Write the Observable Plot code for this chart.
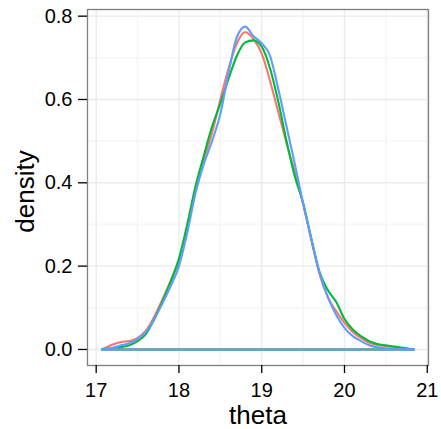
<!DOCTYPE html>
<html>
<head>
<meta charset="utf-8">
<script src="https://cdn.jsdelivr.net/npm/d3@7"></script>
<script src="https://cdn.jsdelivr.net/npm/@observablehq/plot@0.6"></script>
<style>
  html, body { margin: 0; padding: 0; background: #fff; }
  #chart { width: 441px; height: 429px; }
</style>
</head>
<body>
<div id="chart"></div>
<script>
// theta grid and density estimates per chain
const theta = [17.07, 17.2, 17.3, 17.4, 17.5, 17.6, 17.7, 17.8, 17.9, 18.0, 18.1, 18.2, 18.3, 18.4, 18.5, 18.6, 18.7, 18.8, 18.9, 19.0, 19.1, 19.2, 19.3, 19.4, 19.5, 19.6, 19.7, 19.8, 19.9, 20.0, 20.1, 20.2, 20.3, 20.4, 20.5, 20.6, 20.7, 20.84];
const red   = [0, 0.012, 0.018, 0.020, 0.028, 0.045, 0.078, 0.120, 0.165, 0.215, 0.295, 0.385, 0.455, 0.520, 0.600, 0.675, 0.735, 0.762, 0.745, 0.710, 0.645, 0.570, 0.495, 0.425, 0.350, 0.262, 0.180, 0.125, 0.092, 0.064, 0.042, 0.027, 0.016, 0.011, 0.008, 0.005, 0.003, 0];
const green = [0, 0.003, 0.006, 0.010, 0.020, 0.037, 0.072, 0.115, 0.163, 0.218, 0.300, 0.392, 0.465, 0.535, 0.590, 0.650, 0.705, 0.737, 0.742, 0.727, 0.675, 0.595, 0.500, 0.415, 0.352, 0.265, 0.185, 0.142, 0.114, 0.073, 0.048, 0.032, 0.020, 0.013, 0.010, 0.007, 0.004, 0];
const blue  = [0, 0.004, 0.010, 0.015, 0.025, 0.042, 0.072, 0.110, 0.152, 0.200, 0.280, 0.375, 0.445, 0.500, 0.565, 0.665, 0.750, 0.775, 0.752, 0.735, 0.705, 0.625, 0.535, 0.445, 0.350, 0.265, 0.183, 0.125, 0.083, 0.052, 0.032, 0.020, 0.010, 0.005, 0.003, 0.001, 0.0005, 0];
const seriesNames = ["1", "2", "3"];
const seriesColors = ["#F8766D", "#00BA38", "#619CFF"];

const xTicks = [17, 18, 19, 20, 21];
const xMinor = [17.5, 18.5, 19.5, 20.5];
const yTicks = [0, 0.2, 0.4, 0.6, 0.8];
const yMinor = [0.1, 0.3, 0.5, 0.7];

const rows = [];
[red, green, blue].forEach((vals, k) => {
  vals.forEach((v, i) => rows.push({theta: theta[i], density: v, chain: seriesNames[k]}));
});
const baseline = seriesNames.map(s => ({chain: s, x1: theta[0], x2: theta[theta.length - 1]}));

const font = "'Liberation Sans', Arial, Helvetica, sans-serif";

const marks = [
  Plot.ruleX(xMinor, {stroke: "#F7F7F7", strokeWidth: 1.8}),
  Plot.ruleY(yMinor, {stroke: "#F7F7F7", strokeWidth: 1.8}),
  Plot.ruleX(xTicks, {stroke: "#EBEBEB", strokeWidth: 1.4}),
  Plot.ruleY(yTicks, {stroke: "#EBEBEB", strokeWidth: 1.4})
];
seriesNames.forEach((s, k) => {
  marks.push(Plot.line(rows.filter(r => r.chain === s), {x: "theta", y: "density", stroke: seriesColors[k], strokeWidth: 2.1, curve: "monotone-x"}));
  marks.push(Plot.ruleY([baseline[k]], {x1: "x1", x2: "x2", y: () => 0, stroke: seriesColors[k], strokeWidth: 2.1}));
});
marks.push(
  Plot.frame({stroke: "#7F7F7F", strokeWidth: 1.3}),
  Plot.axisX({ticks: xTicks, tickSize: 8, tickPadding: 9, fontSize: 20, tickFormat: d => String(d), label: null, stroke: "#000", strokeWidth: 1.3}),
  Plot.axisY({ticks: yTicks, tickSize: 9, tickPadding: 6, fontSize: 20, tickFormat: d3.format(".1f"), label: null, stroke: "#000", strokeWidth: 1.3}),
  Plot.text(["theta"], {frameAnchor: "bottom", dy: 50, fontSize: 26, lineAnchor: "middle", textAnchor: "middle", fill: "#000"}),
  Plot.text(["density"], {frameAnchor: "left", dx: -62, dy: 4, rotate: -90, fontSize: 26, lineAnchor: "middle", textAnchor: "middle", fill: "#000"})
);

const chart = Plot.plot({
  width: 441,
  height: 429,
  marginLeft: 87,
  marginRight: 13,
  marginTop: 9,
  marginBottom: 64,
  style: {fontFamily: font, background: "#fff", color: "#000", overflow: "visible"},
  x: {domain: [16.895, 21.015]},
  y: {domain: [-0.0385, 0.816]},
  marks
});
document.getElementById("chart").appendChild(chart);
</script>
</body>
</html>
